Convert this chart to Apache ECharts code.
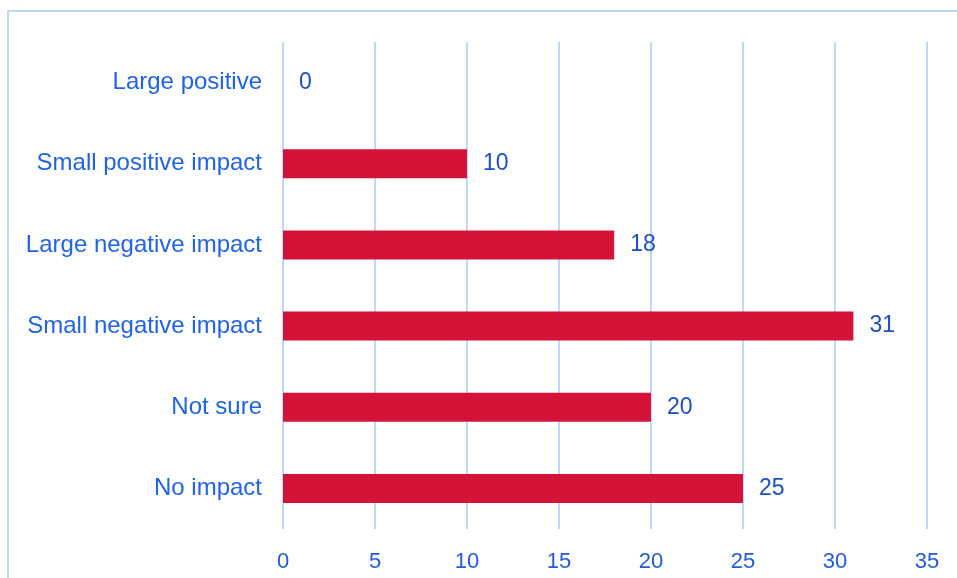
<!DOCTYPE html>
<html>
<head>
<meta charset="utf-8">
<script src="https://cdn.jsdelivr.net/npm/echarts@6/dist/echarts.min.js"></script>
<style>
html,body{margin:0;padding:0;background:#fff;}
#c{width:957px;height:578px;}
</style>
</head>
<body>
<div id="c"></div>
<script>
const categories = ["No impact", "Not sure", "Small negative impact", "Large negative impact", "Small positive impact", "Large positive"];
const values = [25, 20, 31, 18, 10, 0];
const xTicks = [0, 5, 10, 15, 20, 25, 30, 35];

const chart = echarts.init(document.getElementById('c'));
chart.setOption({
  animation: false,
  backgroundColor: '#ffffff',
  graphic: [{
    type: 'rect',
    shape: { x: 8, y: 11, width: 1200, height: 1200 },
    style: { fill: 'none', stroke: '#c4d8f6', lineWidth: 2 },
    silent: true
  }],
  grid: { left: 283, right: 30, top: 42, bottom: 49, containLabel: false },
  xAxis: {
    type: 'value',
    min: xTicks[0],
    max: xTicks[xTicks.length - 1],
    interval: 5,
    axisLine: { show: false },
    axisTick: { show: false },
    splitLine: { show: true, lineStyle: { color: '#c2d7f7', width: 2 } },
    axisLabel: {
      color: '#1f5cd6',
      fontFamily: 'Liberation Sans, Arial, sans-serif',
      fontSize: 22,
      margin: 22
    }
  },
  yAxis: {
    type: 'category',
    data: categories,
    axisLine: { show: false },
    axisTick: { show: false },
    splitLine: { show: false },
    axisLabel: {
      color: '#1f63e8',
      fontFamily: 'Liberation Sans, Arial, sans-serif',
      fontSize: 24,
      margin: 21
    }
  },
  series: [{
    type: 'bar',
    data: values,
    barWidth: 29,
    itemStyle: { color: '#d41339' },
    label: {
      show: true,
      position: 'right',
      distance: 16,
      color: '#1b4fc4',
      fontFamily: 'Liberation Sans, Arial, sans-serif',
      fontSize: 23
    }
  }]
});
</script>
</body>
</html>
